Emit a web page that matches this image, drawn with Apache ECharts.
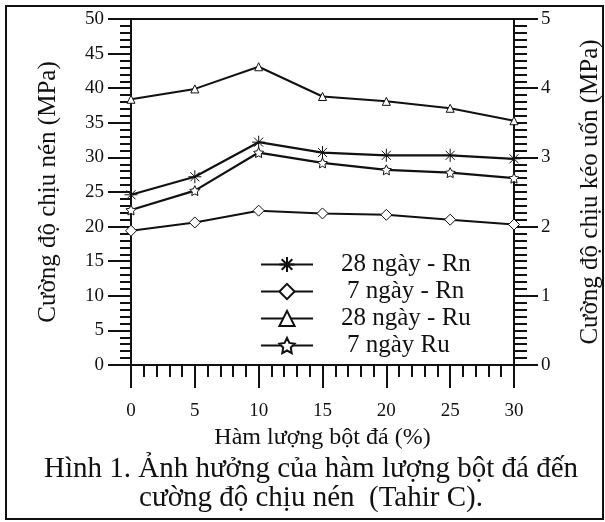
<!DOCTYPE html>
<html>
<head>
<meta charset="utf-8">
<script src="https://cdn.jsdelivr.net/npm/echarts@6/dist/echarts.min.js"></script>
<style>
  html, body { margin: 0; padding: 0; background: #fff; }
  #chart { width: 605px; height: 522px; }
</style>
</head>
<body>
<div id="chart"></div>
<script>
// Stone powder content (%)
const contents = [0, 5, 10, 15, 20, 25, 30];
// Compressive strength, MPa (left axis)
const rn28 = [24.6, 27.2, 32.2, 30.7, 30.3, 30.3, 29.8];
const rn7 = [19.4, 20.6, 22.3, 21.9, 21.7, 21.0, 20.3];
// Flexural strength, MPa (right axis)
const ru28 = [3.84, 3.99, 4.31, 3.88, 3.81, 3.71, 3.53];
const ru7 = [2.24, 2.52, 3.07, 2.92, 2.82, 2.78, 2.70];
// Series names
const names = ['28 ngày - Rn', '7 ngày - Rn', '28 ngày - Ru', '7 ngày Ru'];

const FONT = 'Liberation Serif';
const INK = '#111';

const asterisk = 'path://M0,-10L0,10M-10,0L10,0M-7,-7L7,7M-7,7L7,-7';
const star = 'path://M0,-10L2.94,-4.05L9.51,-3.09L4.76,1.55L5.88,8.09L0,5L-5.88,8.09L-4.76,1.55L-9.51,-3.09L-2.94,-4.05Z';

const pairs = vals => contents.map((c, i) => [c, vals[i]]);

function lineSeries(name, vals, yIdx, symbol, size, width) {
  return {
    name: name,
    type: 'line',
    yAxisIndex: yIdx,
    data: pairs(vals),
    symbol: symbol,
    symbolSize: size,
    showAllSymbol: true,
    lineStyle: { color: INK, width: width },
    itemStyle: { color: '#fff', borderColor: INK, borderWidth: 1 },
    emphasis: { disabled: true },
    animation: false,
    z: 3
  };
}

const chart = echarts.init(document.getElementById('chart'), null, { renderer: 'canvas' });

const axisCommon = {
  axisLine: { show: true, lineStyle: { color: INK, width: 2 } },
  axisTick: { show: true, inside: false, length: 23, lineStyle: { color: INK, width: 2 } },
  minorTick: { show: true, length: 11, lineStyle: { color: INK, width: 2 } },
  splitLine: { show: false },
  axisLabel: { color: INK, fontFamily: FONT, fontSize: 19, margin: 27 },
  nameTextStyle: { color: INK, fontFamily: FONT, fontSize: 24 }
};

chart.setOption({
  backgroundColor: '#fff',
  textStyle: { fontFamily: FONT },
  title: {
    text: 'Hình 1. Ảnh hưởng của hàm lượng bột đá đến\ncường độ chịu nén  (Tahir C).',
    left: 311,
    top: 455,
    padding: 0,
    textAlign: 'center',
    textStyle: { color: INK, fontFamily: FONT, fontSize: 29, fontWeight: 'normal', lineHeight: 29 }
  },
  graphic: [{
    type: 'rect',
    shape: { x: 6, y: 6, width: 597, height: 513 },
    style: { fill: 'none', stroke: INK, lineWidth: 2 },
    silent: true
  }],
  legend: {
    orient: 'vertical',
    left: 260,
    top: 252,
    padding: 0,
    itemWidth: 52,
    itemHeight: 19,
    itemGap: 2,
    selectedMode: false,
    textStyle: { color: INK, fontFamily: FONT, fontSize: 25, padding: [0, 0, 0, 23] },
    data: [
      { name: names[0] },
      { name: names[1], textStyle: { padding: [0, 0, 0, 29] } },
      { name: names[2] },
      { name: names[3], textStyle: { padding: [0, 0, 0, 29] } }
    ]
  },
  grid: {
    left: 131, right: 91, top: 19, bottom: 157,
    outerBoundsMode: 'none',
    containLabel: false,
    show: true, borderColor: INK, borderWidth: 2, backgroundColor: 'transparent'
  },
  xAxis: Object.assign({}, axisCommon, {
    type: 'value',
    min: 0, max: 30, interval: 5,
    minorTick: { show: true, splitNumber: 5, length: 12, lineStyle: { color: INK, width: 2 } },
    axisLabel: Object.assign({}, axisCommon.axisLabel, { margin: 37 }),
    name: 'Hàm lượng bột đá (%)',
    nameLocation: 'middle',
    nameGap: 60
  }),
  yAxis: [
    Object.assign({}, axisCommon, {
      type: 'value',
      position: 'left',
      min: 0, max: 50, interval: 5,
      minorTick: { show: true, splitNumber: 5, length: 11, lineStyle: { color: INK, width: 2 } },
      name: 'Cường độ chịu nén (MPa)',
      nameLocation: 'middle',
      nameGap: 70,
      nameTextStyle: { color: INK, fontFamily: FONT, fontSize: 25 }
    }),
    Object.assign({}, axisCommon, {
      type: 'value',
      position: 'right',
      min: 0, max: 5, interval: 1,
      axisTick: { show: true, length: 24, lineStyle: { color: INK, width: 2 } },
      minorTick: { show: true, splitNumber: 10, length: 13, lineStyle: { color: INK, width: 2 } },
      name: 'Cường độ chịu kéo uốn (MPa)',
      nameLocation: 'middle',
      nameGap: 64,
      nameTextStyle: { color: INK, fontFamily: FONT, fontSize: 25 }
    })
  ],
  series: [
    lineSeries(names[0], rn28, 0, asterisk, 13, 2.2),
    lineSeries(names[1], rn7, 0, 'diamond', 11, 2),
    lineSeries(names[2], ru28, 1, 'triangle', 8, 2),
    lineSeries(names[3], ru7, 1, star, 10, 2.2)
  ]
});
</script>
</body>
</html>
